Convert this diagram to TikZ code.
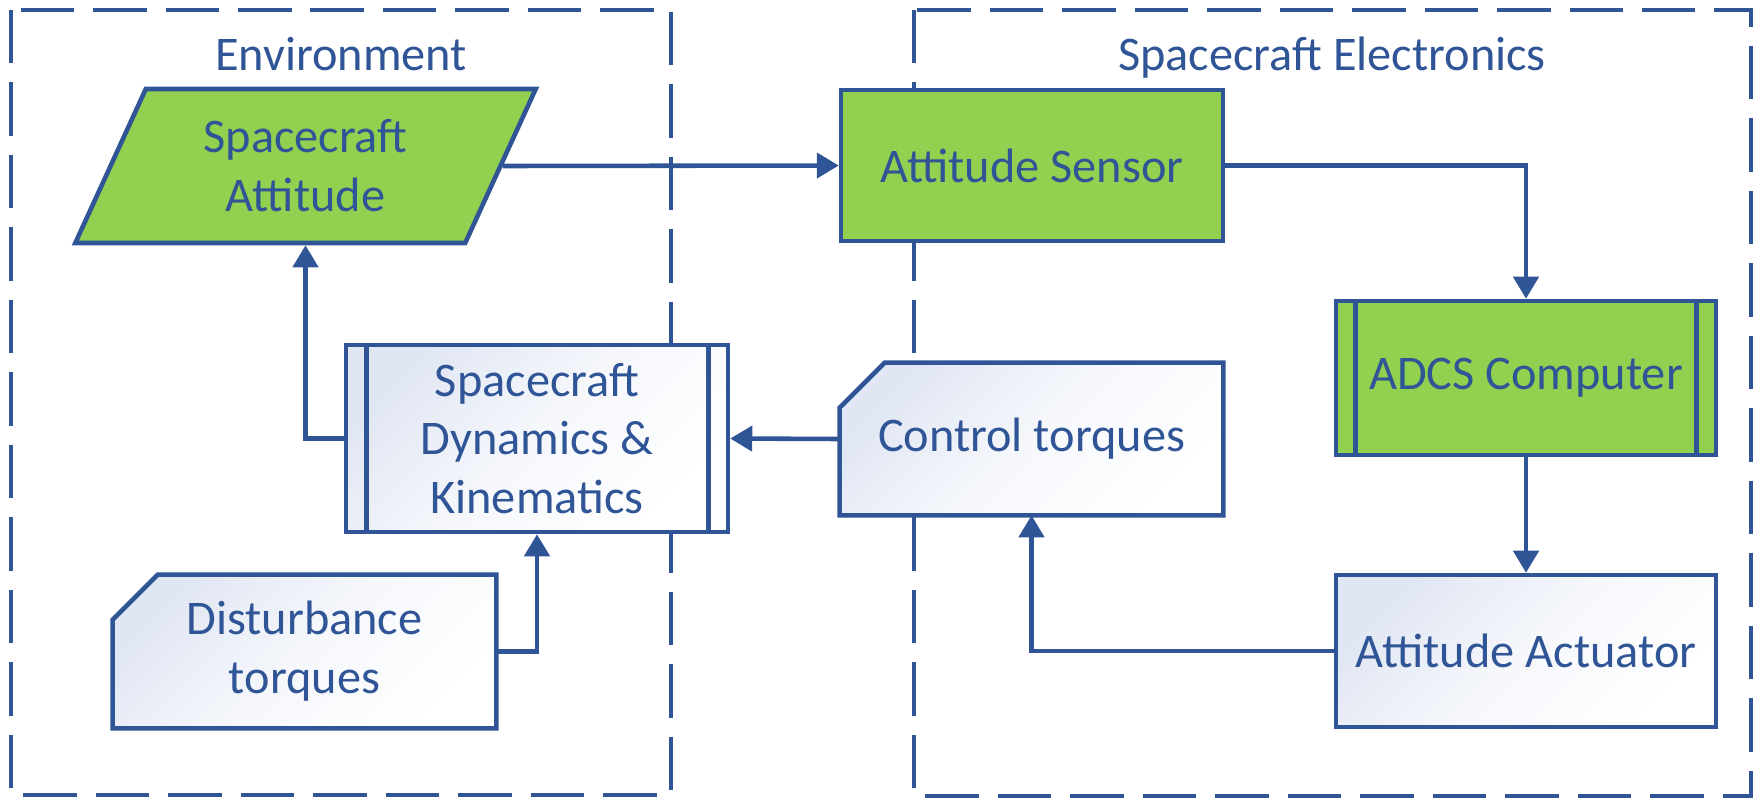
\documentclass[tikz,border=0pt]{standalone}
\usepackage{fontspec}
\setmainfont{Carlito}
\usetikzlibrary{arrows.meta,shapes.geometric,backgrounds}
\definecolor{lineblue}{RGB}{47,85,151}
\definecolor{boxgreen}{RGB}{146,208,80}
\definecolor{shadeblue}{RGB}{224,230,243}
\tikzset{
  every node/.style={text=lineblue,font=\fontsize{27.5}{33.5}\selectfont,align=center,inner sep=0pt},
  boxline/.style={draw=lineblue,line width=2.6pt},
  greenbox/.style={boxline,fill=boxgreen},
  whitebox/.style={boxline,top color=shadeblue,bottom color=white,middle color=white!70!shadeblue,shading angle=45},
  group/.style={draw=lineblue,line width=2.8pt,dash pattern=on 1.07cm off 0.38cm},
  conn/.style={draw=lineblue,line width=2.6pt,-{Triangle[length=0.44cm,width=0.5cm]}},
  holder/.style={rectangle},
}
\begin{document}
\begin{tikzpicture}[x=0.02cm,y=-0.02cm]
\useasboundingbox (0,0) rectangle (1763,801);
\node[anchor=base] (envlbl) at (341,70) {Environment};
\node[anchor=base] (elelbl) at (1332,70) {Spacecraft Electronics};
% nodes
\node[greenbox,trapezium,trapezium left angle=64,trapezium right angle=116,
  trapezium stretches=true,minimum width=9.22cm,minimum height=3.08cm]
  (att) at (305.5,166) {Spacecraft\\Attitude};
\node[greenbox,rectangle,minimum width=7.64cm,minimum height=3.02cm]
  (sens) at (1032,165.5) {Attitude Sensor};
\node[greenbox,rectangle,minimum width=7.6cm,minimum height=3.08cm]
  (adcs) at (1526,378) {ADCS Computer};
\draw[boxline] ([xshift=0.44cm]adcs.north west) -- ([xshift=0.44cm]adcs.south west);
\draw[boxline] ([xshift=-0.44cm]adcs.north east) -- ([xshift=-0.44cm]adcs.south east);
\node[whitebox,rectangle,minimum width=7.6cm,minimum height=3.04cm]
  (act) at (1526,651) {Attitude Actuator};
\node[holder,minimum width=7.66cm,minimum height=3.04cm]
  (ct) at (1031.5,439) {Control torques};
\node[whitebox,rectangle,minimum width=7.64cm,minimum height=3.74cm]
  (dyn) at (537,438.5) {Spacecraft\\Dynamics \&\\Kinematics};
\draw[boxline] ([xshift=0.46cm]dyn.north west) -- ([xshift=0.46cm]dyn.south west);
\draw[boxline] ([xshift=-0.44cm]dyn.north east) -- ([xshift=-0.44cm]dyn.south east);
\node[holder,minimum width=7.66cm,minimum height=3.06cm]
  (dist) at (304.5,651.5) {Disturbance\\torques};
% background: groups and cut-corner shapes
\begin{scope}[on background layer]
\draw[group] (11,10) rectangle (671,795);
\draw[group] (914,10) rectangle (1751,796);
\path[whitebox] ([yshift=-0.9cm]ct.north west) -- ([xshift=0.9cm]ct.north west)
  -- (ct.north east) -- (ct.south east) -- (ct.south west) -- cycle;
\path[whitebox] ([yshift=-0.9cm]dist.north west) -- ([xshift=0.9cm]dist.north west)
  -- (dist.north east) -- (dist.south east) -- (dist.south west) -- cycle;
\end{scope}
% connectors
\draw[conn] (att.east) -- (sens.west);
\draw[conn] (sens.east) -| (adcs.north);
\draw[conn] (adcs.south) -- (act.north);
\draw[conn] (act.west) -| (ct.south);
\draw[conn] (ct.west) -- (dyn.east);
\draw[conn] (dyn.west) -| (att.south);
\draw[conn] (dist.east) -| (dyn.south);
\end{tikzpicture}
\end{document}
